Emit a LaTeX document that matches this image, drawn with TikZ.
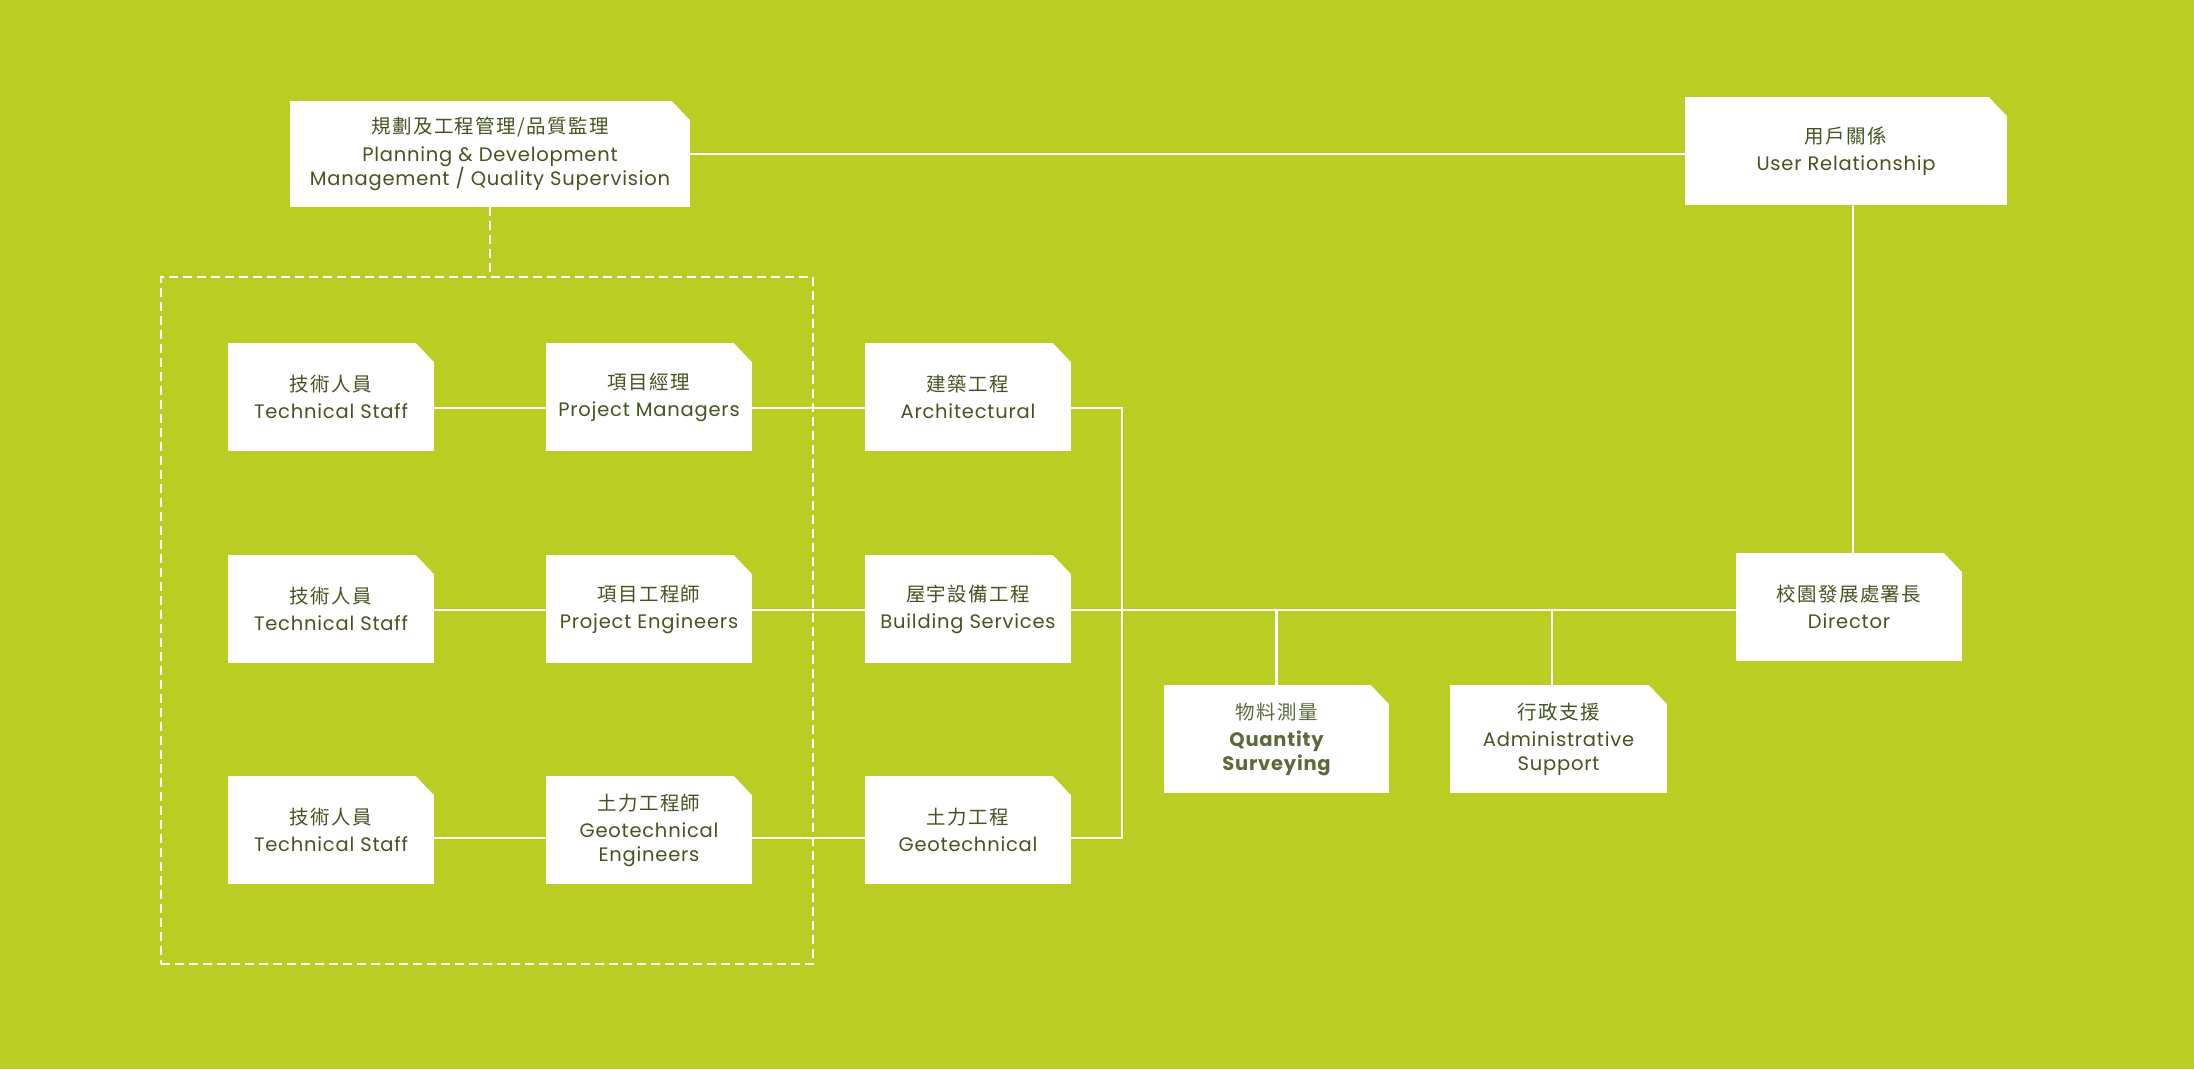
\documentclass[tikz,border=0pt]{standalone}
\usepackage{fontspec}
\setmainfont{Poppins}[LetterSpace=4]
\newfontfamily\cjk{Noto Sans CJK TC}[LetterSpace=7]
\definecolor{bg}{RGB}{186,205,34}
\definecolor{txt}{RGB}{68,84,32}
\definecolor{qstxt}{RGB}{92,106,58}
\begin{document}
\begin{tikzpicture}[x=1pt,y=-1pt,
  box/.style={rectangle, fill=white, inner sep=0pt, outer sep=0pt, text=txt, align=center,
    font=\fontsize{19.5}{24}\selectfont,
    path picture={\fill[bg] (path picture bounding box.north east) -- ++(-18pt,0pt) -- ++(18pt,-19pt) -- cycle;}},
  sbox/.style={box, minimum width=206pt, minimum height=108pt},
  conn/.style={draw=white, line width=2.2pt, line join=miter},
  dashconn/.style={draw=white, line width=2.5pt, dash pattern=on 9pt off 5pt}]
\fill[bg] (0,0) rectangle (2194,1069);
\useasboundingbox (0,0) rectangle (2194,1069);

% group box
\node[draw=white, line width=2.5pt, dash pattern=on 9pt off 5pt, minimum width=652pt, minimum height=687pt, inner sep=0pt] (grp) at (487,620.5) {};

% top boxes
\node[box, minimum width=400pt, minimum height=106pt] (plan) at (490,154)
  {{\cjk 規劃及工程管理/品質監理}\\[4pt] Planning \& Development\\ Management / Quality Supervision};
\node[box, minimum width=322pt, minimum height=108pt] (user) at (1846,151)
  {{\cjk 用戶關係}\\[3pt] User Relationship};

% rows
\node[sbox] (ts1) at (331,397) {{\cjk 技術人員}\\[3pt] Technical Staff};
\node[sbox] (pm) at (649,397) {{\cjk 項目經理}\\[3pt] Project Managers};
\node[sbox] (arch) at (968,397) {{\cjk 建築工程}\\[3pt] Architectural};

\node[sbox] (ts2) at (331,609) {{\cjk 技術人員}\\[3pt] Technical Staff};
\node[sbox] (pe) at (649,609) {{\cjk 項目工程師}\\[3pt] Project Engineers};
\node[sbox] (bs) at (968,609) {{\cjk 屋宇設備工程}\\[3pt] Building Services};

\node[sbox] (ts3) at (331,830) {{\cjk 技術人員}\\[3pt] Technical Staff};
\node[sbox] (ge) at (649,830) {{\cjk 土力工程師}\\[3pt] Geotechnical\\ Engineers};
\node[sbox] (geo) at (968,830) {{\cjk 土力工程}\\[3pt] Geotechnical};

\node[box, minimum width=225pt, minimum height=108pt, text=qstxt] (qs) at (1276.5,739)
  {{\cjk 物料測量}\\[3pt] \bfseries Quantity\\ \bfseries Surveying};
\node[box, minimum width=217pt, minimum height=108pt] (as) at (1558.5,739)
  {{\cjk 行政支援}\\[3pt] Administrative\\ Support};
\node[box, minimum width=226pt, minimum height=108pt] (dir) at (1849,607)
  {{\cjk 校園發展處署長}\\[3pt] Director};

% helper coordinates
\coordinate (bx) at (1122,0);
\coordinate (ax) at (1552,0);
\coordinate (vx) at (1853,0);
\coordinate (r1) at ([yshift=-11pt]ts1.east);
\coordinate (r2) at ([yshift=-1pt]ts2.east);
\coordinate (r3) at ([yshift=-8pt]ts3.east);

% connectors
\draw[conn] (plan.east) -- (user.west |- plan.east);
\draw[conn] (user.south -| vx) -- (dir.north -| vx);
\draw[dashconn] (plan.south) -- (grp.north -| plan.south);

\draw[conn] (r1) -- (pm.west |- r1);
\draw[conn] (pm.east |- r1) -- (arch.west |- r1);
\draw[conn] (arch.east |- r1) -| (bx |- r3) -- (geo.east |- r3);

\draw[conn] (r2) -- (pe.west |- r2);
\draw[conn] (pe.east |- r2) -- (bs.west |- r2);
\draw[conn] (bs.east |- r2) -- (dir.west |- r2);

\draw[conn] (r3) -- (ge.west |- r3);
\draw[conn] (ge.east |- r3) -- (geo.west |- r3);

\draw[conn] (qs.north) -- (qs.north |- r2);
\draw[conn] (as.north -| ax) -- (ax |- r2);
\end{tikzpicture}
\end{document}
